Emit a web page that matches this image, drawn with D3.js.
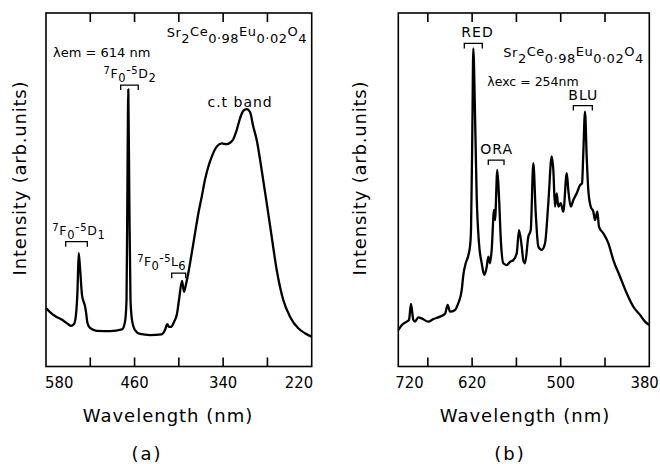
<!DOCTYPE html>
<html>
<head>
<meta charset="utf-8">
<script src="https://cdn.jsdelivr.net/npm/d3@7"></script>
<style>
  body { margin: 0; background: #fff; }
  svg { display: block; }
  text { font-family: "DejaVu Sans", sans-serif; fill: #000; }
</style>
</head>
<body>
<svg id="container" width="660" height="464"></svg>
<script>
// (a) excitation spectrum, lambda em = 614 nm
const aWavelength = [580, 574.6, 567.8, 558.3, 550.2, 546.1, 542.1, 539.4, 537.3, 535.7, 533.9, 531.2, 528.5, 527.2, 525.8, 523.8, 520.4, 511.3, 493.3, 477.0, 473.0, 470.9, 469.8, 468.5, 467.1, 465.5, 463.5, 459.4, 452.6, 439.1, 423.3, 418.8, 415.7, 413.4, 410.6, 406.6, 402.5, 399.8, 395.7, 393.0, 390.3, 387.2, 382.6, 378.1, 373.6, 369.0, 364.6, 360.1, 355.5, 348.7, 341.9, 335.2, 330.7, 326.2, 321.6, 317.1, 312.7, 308.1, 303.6, 299.1, 294.5, 287.8, 281.0, 274.2, 267.4, 258.5, 249.4, 238.2, 229.1, 220];
const aIntensity = [16.5, 15.4, 14.3, 13.2, 12.0, 11.5, 12.0, 14.6, 21.6, 32.1, 27.9, 20.2, 18.0, 17.1, 15.4, 12.3, 10.9, 10.1, 10.0, 10.5, 12.6, 18.8, 47.1, 78.4, 47.1, 18.8, 13.2, 10.3, 9.2, 8.9, 9.1, 10.3, 12.0, 11.2, 11.2, 12.6, 14.9, 18.8, 24.2, 21.1, 23.3, 26.4, 32.0, 37.7, 43.3, 48.0, 52.8, 56.5, 59.3, 62.2, 63.1, 62.9, 63.3, 64.3, 66.9, 70.2, 72.3, 72.8, 72.0, 67.8, 64.1, 55.6, 46.3, 36.7, 27.3, 18.8, 14.1, 10.8, 9.4, 8.4];

// (b) emission spectrum, lambda exc = 254 nm
const bWavelength = [720, 715.4, 708.6, 705.5, 702.8, 699.7, 697.4, 692.9, 688.3, 679.4, 672.6, 663.5, 656.7, 653.1, 650.0, 643.2, 638.7, 634.1, 631.9, 628.7, 626.0, 622.9, 621.5, 619.7, 618.4, 616.1, 613.8, 610.7, 607.0, 603.5, 600.2, 598.1, 595.8, 593.5, 590.3, 589.0, 585.9, 583.6, 580.9, 577.7, 573.1, 568.7, 564.2, 559.6, 556.5, 552.8, 550.7, 548.3, 543.9, 540.6, 537.1, 533.8, 530.3, 525.7, 521.2, 516.8, 512.2, 510.0, 507.7, 505.4, 503.2, 500.0, 496.5, 491.8, 489.7, 486.4, 482.9, 478.3, 473.8, 471.1, 469.4, 467.1, 464.8, 462.6, 459.3, 455.8, 453.5, 450.4, 448.1, 442.3, 435.5, 428.7, 419.6, 410.6, 401.6, 392.6, 385.8, 380];
const bIntensity = [10.3, 11.7, 12.7, 13.2, 17.7, 13.2, 12.7, 13.9, 13.6, 12.7, 13.4, 14.1, 14.9, 17.4, 15.5, 16.0, 17.9, 21.6, 25.9, 29.2, 30.8, 33.9, 38.6, 66.9, 90.0, 71.6, 48.0, 34.9, 29.2, 25.9, 28.2, 31.1, 29.2, 33.0, 44.3, 41.4, 55.6, 48.0, 34.9, 29.2, 28.7, 29.6, 30.1, 32.0, 38.6, 33.9, 30.1, 29.2, 36.7, 38.6, 57.5, 43.3, 33.9, 33.0, 34.9, 46.2, 59.4, 55.6, 45.2, 49.0, 45.2, 46.2, 43.8, 54.7, 49.9, 45.2, 47.1, 49.0, 51.3, 51.8, 60.3, 72.1, 59.3, 49.9, 45.2, 43.8, 41.4, 43.8, 39.5, 37.7, 34.9, 30.1, 25.4, 20.7, 16.9, 14.6, 12.7, 11.7];

const aTicks = [520, 460, 400, 340, 280];
const aTickLabels = [580, 460, 340, 220];
const bTicks = [680, 620, 560, 500, 440];
const bTickLabels = [720, 620, 500, 380];

const svg = d3.select("#container");

const frameTop = 13, frameBottom = 366.5;
const y = d3.scaleLinear().domain([0, 100]).range([frameBottom, frameTop]);

function drawPanel(opt) {
    const x = d3.scaleLinear().domain(opt.domain).range([opt.left, opt.right]);
    const g = svg.append("g");

    // frame
    g.append("rect")
        .attr("x", opt.left).attr("y", frameTop)
        .attr("width", opt.right - opt.left).attr("height", frameBottom - frameTop)
        .attr("fill", "none").attr("stroke", "#000").attr("stroke-width", 1.6);

    // inner ticks, bottom and top
    g.selectAll(".tb").data(opt.ticks).join("line")
        .attr("x1", d => x(d)).attr("x2", d => x(d))
        .attr("y1", frameBottom).attr("y2", frameBottom - 9)
        .attr("stroke", "#000").attr("stroke-width", 1.6);
    g.selectAll(".tt").data(opt.ticks).join("line")
        .attr("x1", d => x(d)).attr("x2", d => x(d))
        .attr("y1", frameTop).attr("y2", frameTop + 9)
        .attr("stroke", "#000").attr("stroke-width", 1.6);

    // tick labels: end labels sit inside the frame edges
    const n = opt.tickLabels.length;
    g.selectAll(".tl").data(opt.tickLabels).join("text")
        .attr("x", (d, i) => x(d) + (i === 0 ? opt.firstShift : i === n - 1 ? opt.lastShift : 0))
        .attr("y", 388)
        .attr("text-anchor", (d, i) => i === 0 ? "start" : i === n - 1 ? "end" : "middle")
        .style("font-family", "'DejaVu Sans Condensed', 'DejaVu Sans'")
        .style("font-size", "16.5px")
        .text(d => d);

    const line = d3.line()
        .x((d, i) => x(opt.wl[i]))
        .y(d => y(d))
        .curve(d3.curveMonotoneX);

    g.append("path")
        .datum(opt.val)
        .attr("d", line)
        .attr("fill", "none")
        .attr("stroke", "#000")
        .attr("stroke-width", 2.3)
        .attr("stroke-linejoin", "round");

    g.append("text")
        .attr("x", opt.titleX).attr("y", 422)
        .attr("text-anchor", "middle")
        .style("font-size", "18px").style("letter-spacing", "1px")
        .text("Wavelength (nm)");

    g.append("text")
        .attr("transform", `translate(${opt.yTitleX},${178}) rotate(-90)`)
        .attr("text-anchor", "middle")
        .style("font-size", "18px").style("letter-spacing", "0.8px")
        .text("Intensity (arb.units)");

    g.append("text")
        .attr("x", opt.capX).attr("y", 460)
        .attr("text-anchor", "middle")
        .style("font-size", "18px").style("letter-spacing", "2px")
        .text(opt.caption);

    // brackets
    opt.brackets.forEach(b => {
        const x0 = x(b.from), x1 = x(b.to), yy = y(b.at);
        g.append("path")
            .attr("d", `M${x0},${yy + 5}V${yy}H${x1}V${yy + 5}`)
            .attr("fill", "none").attr("stroke", "#000").attr("stroke-width", 1.3);
    });

    // labels with sub/superscripts
    opt.labels.forEach(l => {
        const t = g.append("text")
            .attr("x", x(l.w)).attr("y", y(l.i))
            .attr("text-anchor", l.anchor || "start")
            .style("font-size", (l.size || 13) + "px")
            .style("letter-spacing", (l.ls || 0) + "px");
        let cur = 0;
        l.parts.forEach(p => {
            const shift = p[1] || 0;
            const size = p[2] || l.size || 13;
            t.append("tspan")
                .attr("dy", shift - cur)
                .style("font-size", size + "px")
                .text(p[0]);
            cur = shift;
        });
    });
    return x;
}

const formula = [["Sr"], ["2", 6], ["Ce", -1], ["0·98", 6], ["Eu", -1], ["0·02", 6], ["O", -1], ["4", 6]];
function term(last, sub) {
    return [["7", -4, 10], ["F"], ["0", 4, 11.5], ["-", -4], ["5", -4, 10], [last], [sub, 4, 11.5]];
}

drawPanel({
    left: 46, right: 311.7,
    domain: [580, 220],
    ticks: aTicks, tickLabels: aTickLabels,
    firstShift: -1, lastShift: 1.5,
    wl: aWavelength, val: aIntensity,
    titleX: 168, yTitleX: 26, capX: 147, caption: "(a)",
    brackets: [
        {from: 478.8, to: 455, at: 79.6},
        {from: 553.3, to: 524, at: 35.3},
        {from: 409.7, to: 390.7, at: 26.4}
    ],
    labels: [
        {w: 466.2, i: 81.6, anchor: "middle", size: 12.5, ls: 0.6, parts: term("D", "2")},
        {w: 535.5, i: 37.3, anchor: "middle", size: 12.5, ls: 0.6, parts: term("D", "1")},
        {w: 390.3, i: 28.3, anchor: "end", size: 12.5, ls: 0.4, parts: term("L", "6")},
        {w: 317, i: 73.3, anchor: "middle", size: 14, ls: 1, parts: [["c.t band"]]},
        {w: 570.5, i: 87.5, size: 13, parts: [["λem = 614 nm"]]},
        {w: 416.5, i: 93.2, size: 13, ls: 0.5, parts: formula}
    ]
});

drawPanel({
    left: 398.3, right: 649.3,
    domain: [720, 380],
    ticks: bTicks, tickLabels: bTickLabels,
    firstShift: -3, lastShift: 9.5,
    wl: bWavelength, val: bIntensity,
    titleX: 525, yTitleX: 366, capX: 510, caption: "(b)",
    brackets: [
        {from: 630.6, to: 606.2, at: 91.4},
        {from: 598.1, to: 576.8, at: 58.4},
        {from: 482.9, to: 457.2, at: 73.8}
    ],
    labels: [
        {w: 612.7, i: 93.2, anchor: "middle", size: 14, ls: 1, parts: [["RED"]]},
        {w: 586.7, i: 60, anchor: "middle", size: 14, ls: 1, parts: [["ORA"]]},
        {w: 469.4, i: 75.4, anchor: "middle", size: 14, ls: 1, parts: [["BLU"]]},
        {w: 577.7, i: 87.5, size: 13, ls: 0.5, parts: formula},
        {w: 599.4, i: 79.3, size: 12.5, parts: [["λexc = 254nm"]]}
    ]
});
</script>
</body>
</html>
